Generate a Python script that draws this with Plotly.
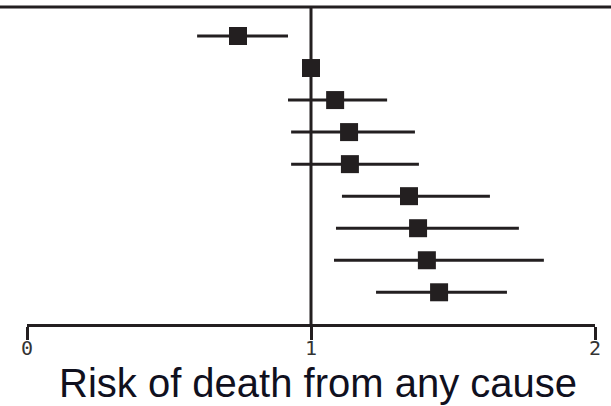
import plotly.graph_objects as go

# Data
rows = [1, 2, 3, 4, 5, 6, 7, 8, 9]
estimate = [0.743, 1.000, 1.085, 1.134, 1.137, 1.345, 1.377, 1.408, 1.451]
ci_low = [0.599, 1.000, 0.919, 0.930, 0.930, 1.109, 1.088, 1.081, 1.229]
ci_high = [0.919, 1.000, 1.268, 1.366, 1.380, 1.630, 1.732, 1.820, 1.690]
tick_vals = [0, 1, 2]
tick_text = ["0", "1", "2"]
x_title = "Risk of death from any cause"

ink = "#231f20"

plus = [h - e for h, e in zip(ci_high, estimate)]
minus = [e - l for e, l in zip(estimate, ci_low)]

fig = go.Figure()
fig.add_trace(go.Scatter(
    x=estimate, y=rows, mode="markers",
    marker=dict(symbol="square", size=18, color=ink, line=dict(width=0)),
    error_x=dict(type="data", symmetric=False, array=plus, arrayminus=minus,
                 thickness=3, width=0, color=ink),
    showlegend=False, hoverinfo="skip",
))

W, H = 611, 406
ml, mr, mt, mb = 27, 16, 7, 82
pw = W - ml - mr
ph = H - mt - mb

# reference line at 1
fig.add_shape(type="line", xref="x", yref="paper", x0=1, x1=1, y0=0, y1=1,
              line=dict(color=ink, width=3), layer="below")
# top rule spanning the full width
fig.add_shape(type="line", xref="paper", yref="paper",
              x0=-ml / pw, x1=1 + mr / pw, y0=1, y1=1,
              line=dict(color=ink, width=3))

fig.add_annotation(text=x_title, xref="paper", yref="paper",
                   x=(318 - ml) / pw, y=(H - mb - 383) / ph,
                   xanchor="center", yanchor="middle", borderpad=0,
                   showarrow=False,
                   font=dict(family="Liberation Sans, Arial, sans-serif", size=40, color="#10101e"))

fig.update_layout(
    width=W, height=H,
    margin=dict(l=ml, r=mr, t=mt, b=mb),
    paper_bgcolor="white", plot_bgcolor="white",
    xaxis=dict(range=[0, 2], tickvals=tick_vals, ticktext=tick_text,
               showgrid=False, zeroline=False, showline=True, linecolor=ink, linewidth=3,
               ticks="outside", ticklen=13, tickwidth=3, tickcolor=ink,
               ticklabelstandoff=-9,
               tickfont=dict(family="DejaVu Sans Mono, monospace", size=20, color="#333333"),
               fixedrange=True),
    yaxis=dict(range=[9.99, 0.095], showgrid=False, zeroline=False, showline=False,
               showticklabels=False, ticks="", fixedrange=True),
)

fig.write_html("out.html")
